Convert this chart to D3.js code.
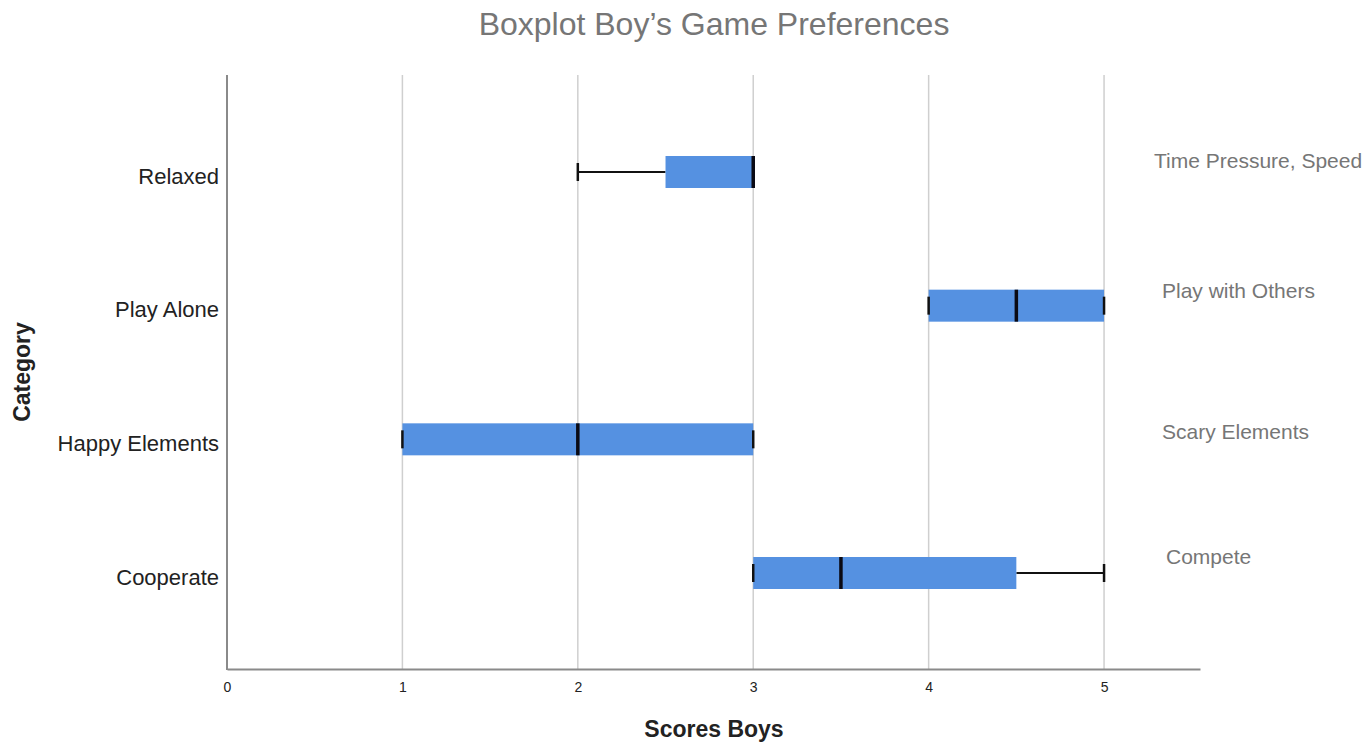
<!DOCTYPE html>
<html>
<head>
<meta charset="utf-8">
<script src="https://cdn.jsdelivr.net/npm/d3@7"></script>
<style>
  html, body { margin: 0; padding: 0; background: #fff; }
  svg { display: block; font-family: "Liberation Sans", Arial, sans-serif; }
</style>
</head>
<body>
<svg id="chart" width="1372" height="746"></svg>
<script>
// Categories (left labels) and their opposite poles (right labels)
const categories = ["Relaxed", "Play Alone", "Happy Elements", "Cooperate"];
const opposites = ["Time Pressure, Speed", "Play with Others", "Scary Elements", "Compete"];

// Five-number summaries per category
const mins    = [2, 4, 1, 3];
const q1s     = [2.5, 4, 1, 3];
const medians = [3, 4.5, 2, 3.5];
const q3s     = [3, 5, 3, 4.5];
const maxs    = [3, 5, 3, 5];

const xTicks = [0, 1, 2, 3, 4, 5];

const svg = d3.select("#chart");
const plotLeft = 227, plotRight = 1200, plotTop = 75, plotBottom = 669;

const x = d3.scaleLinear().domain([0, 5.547]).range([plotLeft, plotRight]);
const y = d3.scalePoint().domain(categories).range([172, 573]);

const rows = categories.map((c, i) => ({
  cat: c, opp: opposites[i], min: mins[i], q1: q1s[i], med: medians[i], q3: q3s[i], max: maxs[i]
}));

// Title
svg.append("text")
  .attr("x", 714).attr("y", 35)
  .attr("text-anchor", "middle")
  .attr("font-size", 32)
  .attr("fill", "#767676")
  .text("Boxplot Boy\u2019s Game Preferences");

// Vertical gridlines
svg.append("g").selectAll("line")
  .data(xTicks.filter(d => d > 0))
  .join("line")
  .attr("x1", d => x(d)).attr("x2", d => x(d))
  .attr("y1", plotTop).attr("y2", plotBottom)
  .attr("stroke", "#cfcfcf").attr("stroke-width", 1.5);

// X axis
const xAxis = svg.append("g")
  .attr("transform", `translate(0,${plotBottom})`)
  .call(d3.axisBottom(x).tickValues(xTicks).tickSize(0).tickPadding(13).tickFormat(d3.format("d")));
xAxis.select(".domain").attr("stroke", "#8a8a8a").attr("stroke-width", 2);
xAxis.selectAll("text").attr("font-size", 14).attr("fill", "#222")
  .attr("font-family", "Liberation Sans, Arial, sans-serif");

// Y axis
const yAxis = svg.append("g")
  .attr("transform", `translate(${plotLeft},0)`)
  .call(d3.axisLeft(y).tickSize(0).tickPadding(8));
yAxis.select(".domain").remove();
yAxis.selectAll("text").attr("font-size", 22).attr("fill", "#222").attr("dy", "0.5em")
  .attr("font-family", "Liberation Sans, Arial, sans-serif");
svg.append("line")
  .attr("x1", plotLeft).attr("x2", plotLeft).attr("y1", plotTop).attr("y2", plotBottom + 1)
  .attr("stroke", "#8a8a8a").attr("stroke-width", 2);

// Axis titles
svg.append("text")
  .attr("x", 714).attr("y", 737)
  .attr("text-anchor", "middle")
  .attr("font-size", 23).attr("font-weight", "bold").attr("fill", "#222")
  .text("Scores Boys");
svg.append("text")
  .attr("transform", "translate(30,372) rotate(-90)")
  .attr("text-anchor", "middle")
  .attr("font-size", 23).attr("font-weight", "bold").attr("fill", "#222")
  .text("Category");

const boxH = 32, capH = 18;
const g = svg.append("g");

// Whiskers
g.selectAll("line.wlo").data(rows).join("line").attr("class", "wlo")
  .attr("x1", d => x(d.min)).attr("x2", d => x(d.q1))
  .attr("y1", d => y(d.cat)).attr("y2", d => y(d.cat))
  .attr("stroke", "#111").attr("stroke-width", 1.8);
g.selectAll("line.whi").data(rows).join("line").attr("class", "whi")
  .attr("x1", d => x(d.q3)).attr("x2", d => x(d.max))
  .attr("y1", d => y(d.cat)).attr("y2", d => y(d.cat))
  .attr("stroke", "#111").attr("stroke-width", 1.8);

// Boxes
g.selectAll("rect.box").data(rows).join("rect").attr("class", "box")
  .attr("x", d => x(d.q1)).attr("width", d => x(d.q3) - x(d.q1))
  .attr("y", d => y(d.cat) - boxH / 2).attr("height", boxH)
  .attr("fill", "#5591e1");

// Whisker caps
g.selectAll("line.capLo").data(rows).join("line").attr("class", "capLo")
  .attr("x1", d => x(d.min)).attr("x2", d => x(d.min))
  .attr("y1", d => y(d.cat) - capH / 2).attr("y2", d => y(d.cat) + capH / 2)
  .attr("stroke", "#111").attr("stroke-width", 2.5);
g.selectAll("line.capHi").data(rows).join("line").attr("class", "capHi")
  .attr("x1", d => x(d.max)).attr("x2", d => x(d.max))
  .attr("y1", d => y(d.cat) - capH / 2).attr("y2", d => y(d.cat) + capH / 2)
  .attr("stroke", "#111").attr("stroke-width", 2.5);

// Medians
g.selectAll("line.med").data(rows).join("line").attr("class", "med")
  .attr("x1", d => x(d.med)).attr("x2", d => x(d.med))
  .attr("y1", d => y(d.cat) - boxH / 2).attr("y2", d => y(d.cat) + boxH / 2)
  .attr("stroke", "#0a0a14").attr("stroke-width", 3.5);

// Opposite-pole labels on the right
const oppOffsets = [{dx: 1154, dy: -4}, {dx: 1162, dy: -8}, {dx: 1162, dy: 0}, {dx: 1166, dy: -9}];
svg.append("g").selectAll("text").data(rows).join("text")
  .attr("x", (d, i) => oppOffsets[i].dx)
  .attr("y", (d, i) => y(d.cat) + oppOffsets[i].dy)
  .attr("font-size", 21).attr("fill", "#767676")
  .text(d => d.opp);
</script>
</body>
</html>
